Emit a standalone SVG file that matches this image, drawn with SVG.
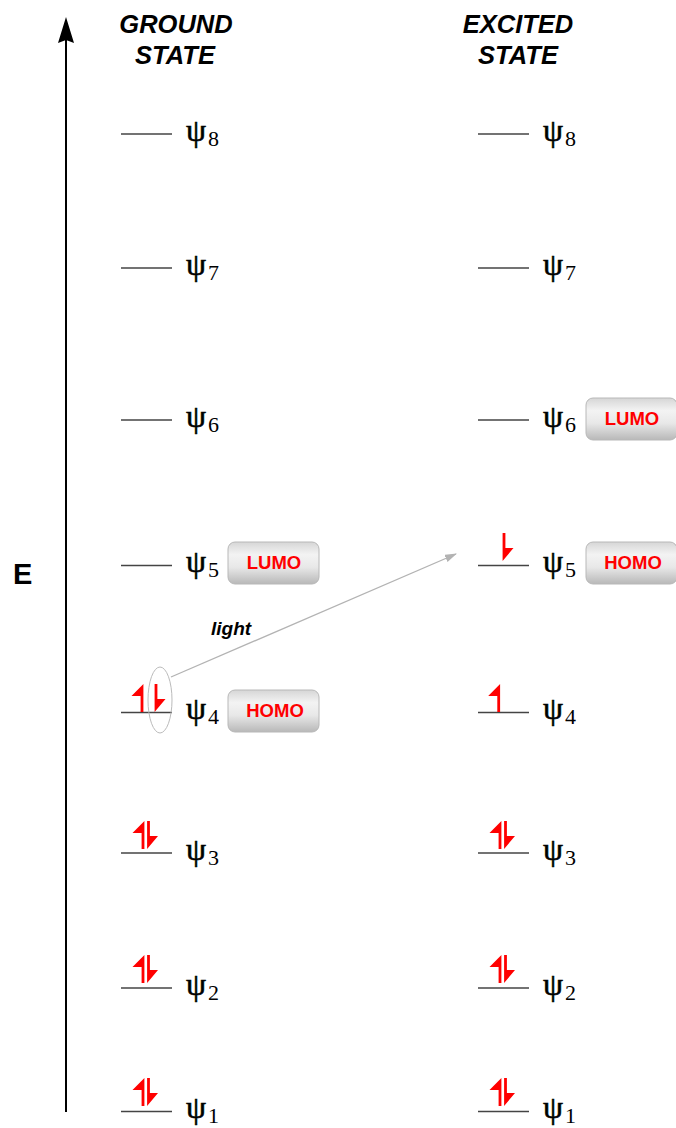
<svg xmlns="http://www.w3.org/2000/svg" xmlns:xlink="http://www.w3.org/1999/xlink" width="676" height="1128" viewBox="0 0 676 1128">
<style>
.lvl{stroke:#444;stroke-width:1.4;fill:none}
.psi{font-family:"Liberation Serif","Times New Roman",serif;font-size:32px;fill:#000;stroke:#000;stroke-width:0.6}
.sub{font-family:"Liberation Serif","Times New Roman",serif;font-size:22px;fill:#000}
.hdr{font-family:"Liberation Sans",Arial,sans-serif;font-size:25.5px;font-weight:bold;font-style:italic;fill:#000;text-anchor:middle}
.btxt{font-family:"Liberation Sans",Arial,sans-serif;font-size:18.5px;font-weight:bold;fill:#f00;text-anchor:middle}
.badge{fill:url(#bg);stroke:#b8b8b8;stroke-width:1}
.e{fill:#f00}
</style>
<defs>
<linearGradient id="bg" x1="0" y1="0" x2="0" y2="1">
<stop offset="0" stop-color="#d6d6d6"/>
<stop offset="0.3" stop-color="#f3f3f3"/>
<stop offset="0.6" stop-color="#e8e8e8"/>
<stop offset="1" stop-color="#b8b8b8"/>
</linearGradient>
<path id="up" d="M1.4,0 L1.4,28 L-1.4,28 L-1.4,12 L-10.5,12 Z"/>
<path id="dn" d="M-1.4,0 L1.4,0 L1.4,15 L9.5,15 L-1.4,28 Z"/>
<marker id="ah" viewBox="0 0 12 8" refX="11" refY="4" markerWidth="12" markerHeight="8" markerUnits="userSpaceOnUse" orient="auto">
<path d="M0,0 L12,4 L0,8 Z" fill="#b3b3b3"/>
</marker>
</defs>
<rect width="676" height="1128" fill="#fff"/>

<g id="axis">
<line x1="66" y1="1112" x2="66" y2="36" stroke="#000" stroke-width="2"/>
<path d="M66,17 L74,43 L66,40 L58,43 Z" fill="#000"/>
<text x="13" y="584" font-family="Liberation Sans,Arial,sans-serif" font-size="29" font-weight="bold">E</text>
</g>

<g id="header-ground">
<text class="hdr" x="176" y="33">GROUND</text>
<text class="hdr" x="175" y="64">STATE</text>
</g>
<g id="header-excited">
<text class="hdr" x="518" y="33">EXCITED</text>
<text class="hdr" x="518" y="64">STATE</text>
</g>

<!-- Ground state levels -->
<g id="g-psi8"><line class="lvl" x1="121" y1="134" x2="172" y2="134"/><text class="psi" x="186" y="141">ψ</text><text class="sub" x="208" y="146">8</text></g>
<g id="g-psi7"><line class="lvl" x1="121" y1="268" x2="172" y2="268"/><text class="psi" x="186" y="275">ψ</text><text class="sub" x="208" y="280">7</text></g>
<g id="g-psi6"><line class="lvl" x1="121" y1="420" x2="172" y2="420"/><text class="psi" x="186" y="427">ψ</text><text class="sub" x="208" y="432">6</text></g>
<g id="g-psi5"><line class="lvl" x1="121" y1="565.5" x2="172" y2="565.5"/><text class="psi" x="186" y="572">ψ</text><text class="sub" x="208" y="577">5</text></g>
<g id="g-psi4"><line class="lvl" x1="121" y1="712.5" x2="172" y2="712.5"/><text class="psi" x="186" y="719">ψ</text><text class="sub" x="208" y="724">4</text>
<use href="#up" class="e" x="142" y="684"/><use href="#dn" class="e" x="156" y="684"/></g>
<g id="g-psi3"><line class="lvl" x1="121" y1="853" x2="172" y2="853"/><text class="psi" x="186" y="860">ψ</text><text class="sub" x="208" y="865">3</text>
<use href="#up" class="e" x="143" y="821"/><use href="#dn" class="e" x="148.5" y="821"/></g>
<g id="g-psi2"><line class="lvl" x1="121" y1="988" x2="172" y2="988"/><text class="psi" x="186" y="995">ψ</text><text class="sub" x="208" y="1000">2</text>
<use href="#up" class="e" x="143" y="955"/><use href="#dn" class="e" x="148.5" y="955"/></g>
<g id="g-psi1"><line class="lvl" x1="121" y1="1111.5" x2="172" y2="1111.5"/><text class="psi" x="186" y="1118">ψ</text><text class="sub" x="208" y="1123">1</text>
<use href="#up" class="e" x="143" y="1078"/><use href="#dn" class="e" x="148.5" y="1078"/></g>

<g id="g-lumo"><rect class="badge" x="228" y="542" width="91" height="42" rx="7"/><text class="btxt" x="274" y="569">LUMO</text></g>
<g id="g-homo"><rect class="badge" x="228" y="690" width="91" height="42" rx="7"/><text class="btxt" x="275" y="717">HOMO</text></g>

<!-- Excited state levels -->
<g id="x-psi8"><line class="lvl" x1="478" y1="134" x2="529" y2="134"/><text class="psi" x="543" y="141">ψ</text><text class="sub" x="565" y="146">8</text></g>
<g id="x-psi7"><line class="lvl" x1="478" y1="268" x2="529" y2="268"/><text class="psi" x="543" y="275">ψ</text><text class="sub" x="565" y="280">7</text></g>
<g id="x-psi6"><line class="lvl" x1="478" y1="420" x2="529" y2="420"/><text class="psi" x="543" y="427">ψ</text><text class="sub" x="565" y="432">6</text></g>
<g id="x-psi5"><line class="lvl" x1="478" y1="565.5" x2="529" y2="565.5"/><text class="psi" x="543" y="572">ψ</text><text class="sub" x="565" y="577">5</text>
<use href="#dn" class="e" x="504" y="533"/></g>
<g id="x-psi4"><line class="lvl" x1="478" y1="712.5" x2="529" y2="712.5"/><text class="psi" x="543" y="719">ψ</text><text class="sub" x="565" y="724">4</text>
<use href="#up" class="e" x="498.7" y="684"/></g>
<g id="x-psi3"><line class="lvl" x1="478" y1="853" x2="529" y2="853"/><text class="psi" x="543" y="860">ψ</text><text class="sub" x="565" y="865">3</text>
<use href="#up" class="e" x="500" y="821"/><use href="#dn" class="e" x="505.5" y="821"/></g>
<g id="x-psi2"><line class="lvl" x1="478" y1="988" x2="529" y2="988"/><text class="psi" x="543" y="995">ψ</text><text class="sub" x="565" y="1000">2</text>
<use href="#up" class="e" x="500" y="955"/><use href="#dn" class="e" x="505.5" y="955"/></g>
<g id="x-psi1"><line class="lvl" x1="478" y1="1111.5" x2="529" y2="1111.5"/><text class="psi" x="543" y="1118">ψ</text><text class="sub" x="565" y="1123">1</text>
<use href="#up" class="e" x="500" y="1078"/><use href="#dn" class="e" x="505.5" y="1078"/></g>

<g id="x-lumo"><rect class="badge" x="586" y="398" width="91" height="42" rx="7"/><text class="btxt" x="632" y="425">LUMO</text></g>
<g id="x-homo"><rect class="badge" x="586" y="542" width="91" height="42" rx="7"/><text class="btxt" x="633" y="569">HOMO</text></g>

<g id="connectors">
<ellipse cx="160" cy="700" rx="12" ry="33" fill="none" stroke="#bbb" stroke-width="1"/>
<line x1="171" y1="677" x2="456" y2="554" stroke="#b3b3b3" stroke-width="1.3" marker-end="url(#ah)"/>
<text x="211" y="635" font-family="Liberation Sans,Arial,sans-serif" font-size="19" font-weight="bold" font-style="italic">light</text>
</g>
</svg>
